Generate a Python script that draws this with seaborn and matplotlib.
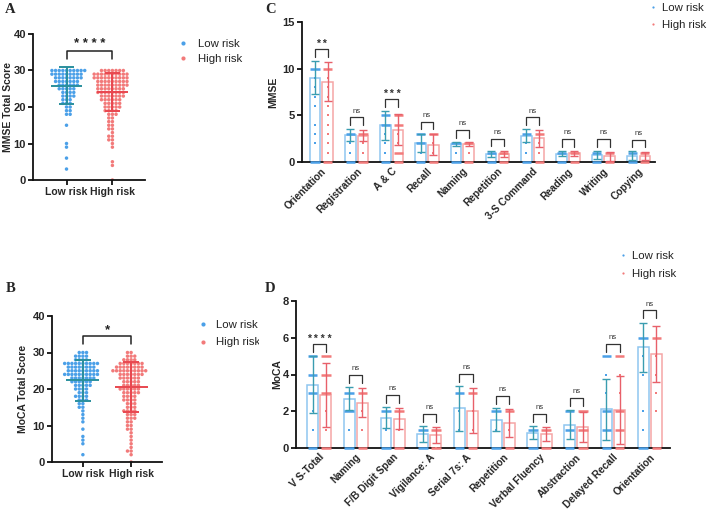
import numpy as np
import pandas as pd
import seaborn as sns
import matplotlib.pyplot as plt
from matplotlib.lines import Line2D
from matplotlib.transforms import Bbox, TransformedBbox

groups = ["Low risk", "High risk"]

# ---- A: MMSE total score, number of subjects at each score
mmse_scores_low = [30, 29, 28, 27, 26, 25, 24, 23, 22, 21, 20, 19, 18, 15, 10, 9, 6, 3]
mmse_counts_low = [10, 9, 8, 7, 6, 5, 4, 4, 3, 3, 2, 2, 2, 1, 1, 1, 1, 1]
mmse_scores_high = [30, 29, 28, 27, 26, 25, 24, 23, 22, 21, 20, 19, 18, 17, 16, 15,
                    14, 13, 12, 11, 10, 9, 5, 4, 0]
mmse_counts_high = [7, 10, 10, 9, 9, 8, 8, 7, 6, 5, 5, 4, 3, 2, 2, 2,
                    2, 1, 2, 2, 1, 1, 1, 1, 1]
mmse_mean = [25.85, 24.1]
mmse_sd = [5.05, 5.3]

# ---- B: MoCA total score
moca_scores_low = [30, 29, 28, 27, 26, 25, 24, 23, 22, 21, 20, 19, 18, 17, 16, 15,
                   14, 13, 12, 11, 9, 7, 6, 5, 2]
moca_counts_low = [3, 4, 4, 10, 8, 9, 10, 7, 6, 5, 4, 3, 4, 3, 2, 2,
                   1, 1, 1, 1, 1, 1, 1, 1, 1]
moca_scores_high = [30, 29, 28, 27, 26, 25, 24, 23, 22, 21, 20, 19, 18, 17, 16, 15,
                    14, 13, 12, 11, 10, 9, 8, 7, 6, 5, 4, 3, 2, 0]
moca_counts_high = [2, 3, 4, 7, 8, 10, 7, 6, 5, 5, 6, 5, 4, 4, 3, 3,
                    4, 3, 3, 2, 2, 2, 1, 1, 1, 1, 1, 2, 1, 1]
moca_mean = [22.4, 20.5]
moca_sd = [5.65, 6.8]

# ---- C: MMSE sub-items
c_tests = ["Orientation", "Registration", "A & C", "Recall", "Naming", "Repetition",
           "3-S Command", "Reading", "Writing", "Copying"]
c_mean_low = [9.05, 2.85, 3.93, 2.05, 1.92, 0.9, 2.82, 0.9, 0.78, 0.65]
c_sd_low = [1.78, 0.65, 1.55, 1.0, 0.25, 0.33, 0.7, 0.3, 0.42, 0.48]
c_mean_high = [8.6, 2.82, 3.46, 1.83, 1.95, 0.85, 2.55, 0.93, 0.6, 0.65]
c_sd_high = [2.1, 0.6, 1.68, 1.13, 0.2, 0.35, 0.9, 0.26, 0.5, 0.47]
c_sig = ["**", "ns", "***", "ns", "ns", "ns", "ns", "ns", "ns", "ns"]
# individual scores: frequent values (drawn as dashes) and rare ones (dots)
c_dense_low = [[10, 0], [3, 0], [5, 4, 0], [3, 2, 0], [2, 0], [1, 0], [3, 0], [1, 0], [1, 0], [1, 0]]
c_sparse_low = [[9, 8, 7, 6, 4, 3, 2], [2, 1], [3, 2, 1], [1], [1], [], [2, 1], [], [], []]
c_dense_high = [[10, 0], [3, 0], [5, 4, 1, 0], [3, 0], [2, 0], [1, 0], [3, 0], [1, 0], [1, 0], [1, 0]]
c_sparse_high = [[9, 8, 7, 6, 5, 4, 3, 2, 1], [2, 1], [3, 2], [2, 1], [1], [], [2, 1], [], [], []]

# ---- D: MoCA sub-items
d_tests = ["V S-Total", "Naming", "F/B Digit Span", "Vigilance: A", "Serial 7s: A",
           "Repetition", "Verbal Fluency", "Abstraction", "Delayed Recall", "Orientation"]
d_mean_low = [3.45, 2.69, 1.65, 0.76, 2.15, 1.53, 0.84, 1.27, 2.1, 5.47]
d_sd_low = [1.54, 0.62, 0.57, 0.42, 1.21, 0.62, 0.34, 0.78, 1.65, 1.35]
d_mean_high = [2.87, 2.46, 1.6, 0.71, 2.04, 1.37, 0.76, 1.12, 2.07, 5.13]
d_sd_high = [1.75, 0.79, 0.57, 0.42, 1.22, 0.75, 0.4, 0.82, 1.85, 1.53]
d_sig = ["****", "ns", "ns", "ns", "ns", "ns", "ns", "ns", "ns", "ns"]
d_dense_low = [[5, 4, 3, 0], [3, 2, 0], [2, 0], [1, 0], [3, 0], [2, 0], [1, 0], [2, 1, 0], [5, 2, 1, 0], [6, 0]]
d_sparse_low = [[2, 1], [1], [1], [], [2, 1], [1], [], [], [4, 3], [5, 4, 2, 1]]
d_dense_high = [[5, 4, 3, 0], [3, 0], [2, 0], [1, 0], [3, 0], [2, 0], [1, 0], [2, 1, 0], [5, 2, 1, 0], [6, 0]]
d_sparse_high = [[2, 1], [2, 1], [1], [0], [2, 1], [1], [], [], [4, 3], [5, 4, 3, 2]]

low_dot, high_dot = "#4ba0e8", "#f27a7a"
low_line, high_line = "#2a8f9d", "#e8474f"
low_bar, high_bar = "#8fc6f0", "#f5a6a6"
low_err, high_err = "#3a9db0", "#e8606a"

sns.set_style("ticks")
plt.rcParams["font.family"] = ["Liberation Sans", "DejaVu Sans"]

W, H = 708, 513
fig = plt.figure(figsize=(W / 100, H / 100), dpi=100)


def fig_rect(x0, y0, x1, y1):
    return [x0 / W, 1 - y1 / H, (x1 - x0) / W, (y1 - y0) / H]


def spaced(stars):
    return " ".join(stars)


def style_axes(ax, xsize=7.5):
    sns.despine(ax=ax)
    for s in ("left", "bottom"):
        ax.spines[s].set_linewidth(1.3)
        ax.spines[s].set_color("#111111")
    ax.tick_params(width=1.3, length=3.5, pad=1.5, color="#111111")
    ax.tick_params(axis="y", labelsize=8)
    ax.tick_params(axis="x", labelsize=xsize)
    for lab in ax.get_xticklabels() + ax.get_yticklabels():
        lab.set_fontweight("bold")


def total_panel(ax, scores, counts, means, sds, stars, ylabel, xlim, label_x):
    df = pd.DataFrame({
        "group": np.repeat(groups, [sum(c) for c in counts]),
        "score": np.concatenate([np.repeat(s, c) for s, c in zip(scores, counts)]),
    })
    sns.swarmplot(data=df, x="group", y="score", hue="group", order=groups,
                  hue_order=groups, palette=[low_dot, high_dot], size=2.5,
                  legend=False, ax=ax, zorder=2)
    for i, (m, s) in enumerate(zip(means, sds)):
        c = [low_line, high_line][i]
        ax.hlines(m, i - 0.34, i + 0.34, color=c, lw=1.4, zorder=4)
        ax.vlines(i, m - s, m + s, color=c, lw=1.4, zorder=4)
        ax.hlines([m - s, m + s], i - 0.16, i + 0.16, color=c, lw=1.4, zorder=4)
    top = max(max(max(s) for s in scores), max(m + s for m, s in zip(means, sds)))
    y0 = top + 0.057 * 40
    y1 = y0 + 0.055 * 40
    ax.plot([0, 0, 1, 1], [y0, y1, y1, y0], color="#222222", lw=1.1)
    ax.text(0.5, y1 + 0.1, spaced(stars), ha="center", va="bottom", fontsize=9.5,
            fontweight="bold", color="#222222")
    ax.set_ylim(0, 40)
    ax.set_yticks([0, 10, 20, 30, 40])
    ax.set_xlim(*xlim)
    ax.set_xlabel("")
    ax.set_ylabel(ylabel, fontsize=7.5, fontweight="bold")
    ax.yaxis.set_label_coords(label_x, 0.5)
    style_axes(ax)


def sub_panel(ax, tests, m_low, s_low, m_high, s_high, dense, sparse, sig,
              ymax, yticks, ylabel, xlim, label_x):
    n = len(tests)
    df = pd.DataFrame({"test": tests * 2, "group": np.repeat(groups, n),
                       "mean": m_low + m_high})
    sns.barplot(data=df, x="test", y="mean", hue="group", order=tests,
                hue_order=groups, palette=[low_bar, high_bar], fill=False,
                width=0.72, gap=0.17, linewidth=1.1, errorbar=None,
                legend=False, ax=ax)
    x = np.arange(n)
    sides = [(x - 0.18, m_low, s_low, low_err, low_dot, dense[0], sparse[0]),
             (x + 0.18, m_high, s_high, high_err, high_dot, dense[1], sparse[1])]
    for xs, m, s, ec, dc, dn, sp in sides:
        ax.errorbar(xs, m, yerr=s, fmt="none", ecolor=ec, elinewidth=1.0,
                    capsize=3.2, capthick=1.0, zorder=4)
        for xi, dvals, svals in zip(xs, dn, sp):
            ax.hlines(dvals, xi - 0.13, xi + 0.13, color=dc, lw=1.8, zorder=3,
                      clip_on=False)
            ax.scatter([xi] * len(svals), svals, s=2.5, color=dc, marker="s",
                       linewidths=0, zorder=3)
    for i in range(n):
        top = max(m_low[i] + s_low[i], m_high[i] + s_high[i],
                  *dense[0][i], *dense[1][i], *sparse[0][i], *sparse[1][i])
        y0 = top + 0.03 * ymax
        y1 = y0 + 0.055 * ymax
        ax.plot([i - 0.18, i - 0.18, i + 0.18, i + 0.18], [y0, y1, y1, y0],
                color="#333333", lw=0.9)
        if sig[i] == "ns":
            ax.text(i, y1 + 0.018 * ymax, sig[i], ha="center", va="bottom",
                    fontsize=5.5, color="#333333")
        else:
            ax.text(i, y1 + 0.0, spaced(sig[i]), ha="center", va="bottom",
                    fontsize=7.5, fontweight="bold", color="#333333")
    ax.set_ylim(0, ymax)
    ax.set_yticks(yticks)
    ax.set_xlim(*xlim)
    ax.set_xticks(x)
    ax.set_xticklabels(tests, rotation=45, ha="right", rotation_mode="anchor")
    ax.set_xlabel("")
    ax.set_ylabel(ylabel, fontsize=7.5, fontweight="bold")
    ax.yaxis.set_label_coords(label_x, 0.5)
    style_axes(ax, xsize=7.3)
    ax.tick_params(axis="x", length=0, pad=3)


def add_legend(x, y, pad, ms, spacing):
    handles = [Line2D([], [], ls="", marker="o", ms=ms, color=c, mec="none")
               for c in (low_dot, high_dot)]
    return fig.legend(handles, groups, loc="center left",
                      bbox_to_anchor=(x / W, 1 - y / H), frameon=False,
                      fontsize=8.2, handlelength=0.8, handletextpad=pad,
                      labelspacing=spacing, borderpad=0, borderaxespad=0,
                      labelcolor="#222222")


ax_a = fig.add_axes(fig_rect(33, 34, 145, 180))
ax_b = fig.add_axes(fig_rect(52, 316, 162, 462))
ax_c = fig.add_axes(fig_rect(302, 22, 655, 162))
ax_d = fig.add_axes(fig_rect(296, 301, 670, 448))

total_panel(ax_a, [mmse_scores_low, mmse_scores_high], [mmse_counts_low, mmse_counts_high],
            mmse_mean, mmse_sd, "****", "MMSE Total Score", (-0.73, 1.71), -0.183)
total_panel(ax_b, [moca_scores_low, moca_scores_high], [moca_counts_low, moca_counts_high],
            moca_mean, moca_sd, "*", "MoCA Total Score", (-0.64, 1.64), -0.218)
sub_panel(ax_c, c_tests, c_mean_low, c_sd_low, c_mean_high, c_sd_high,
          [c_dense_low, c_dense_high], [c_sparse_low, c_sparse_high], c_sig,
          15, [0, 5, 10, 15], "MMSE", (-0.55, 9.47), -0.068)
sub_panel(ax_d, d_tests, d_mean_low, d_sd_low, d_mean_high, d_sd_high,
          [d_dense_low, d_dense_high], [d_sparse_low, d_sparse_high], d_sig,
          8, [0, 2, 4, 6, 8], "MoCA", (-0.63, 9.55), -0.037)

add_legend(178.6, 51.5, 0.86, 3.0, 0.5)
leg_b = add_legend(198.6, 333.5, 0.77, 3.0, 0.7)
clip = TransformedBbox(Bbox([[0, 0], [258.5 / W, 1]]), fig.transFigure)
for t in leg_b.get_texts():
    t.set_clip_on(True)
    t.set_clip_box(clip)
add_legend(648.6, 16.5, 0.38, 1.6, 0.7)
add_legend(618.6, 265, 0.4, 1.6, 0.7)

for letter, x, y in [("A", 5, 13.3), ("B", 6, 291.7), ("C", 265, 13.3), ("D", 265, 291.7)]:
    fig.text(x / W, 1 - y / H, letter, fontfamily="Liberation Serif",
             fontweight="bold", fontsize=10.5, va="baseline")

fig.savefig("out.png", dpi=100)
